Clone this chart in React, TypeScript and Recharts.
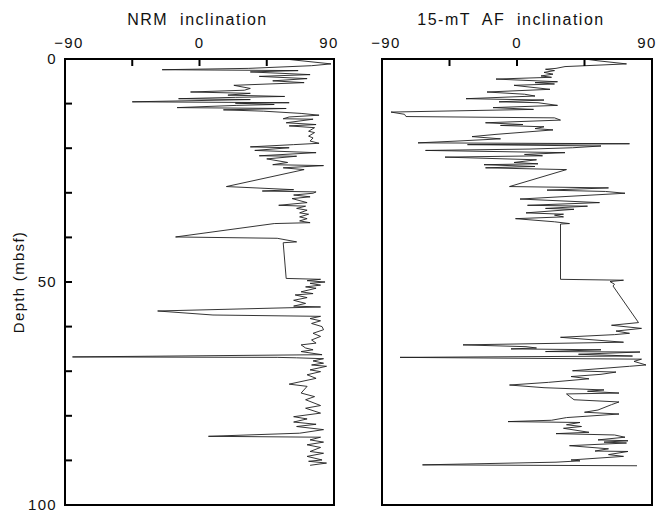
import React from "react";
import { LineChart, Line, XAxis, YAxis } from "recharts";

// NRM inclination downhole (depth in mbsf, inclination in degrees)
const NRM_DEPTH = [
  0.0, 1.1, 1.5, 2.1, 2.4, 2.6, 2.9, 3.5, 3.9, 4.4, 4.9, 5.3, 5.9, 6.6, 7.0, 7.4, 7.7, 8.1, 8.4, 8.6,
  8.9, 9.1, 9.6, 9.8, 9.9, 10.2, 10.4, 10.9, 11.1, 11.4, 11.7, 12.2, 12.6, 13.0, 13.4, 13.5, 14.3, 14.7, 15.0, 15.4,
  16.2, 16.5, 17.3, 17.7, 18.4, 18.9, 19.2, 19.7, 19.9, 20.5, 21.0, 21.7, 21.8, 22.4, 23.2, 23.7, 23.9, 24.4, 24.8, 28.6,
  29.3, 29.6, 29.8, 30.1, 30.5, 30.9, 31.3, 32.2, 32.8, 33.0, 33.5, 33.9, 34.5, 34.8, 35.4, 35.8, 36.3, 36.7, 36.9, 39.9,
  40.2, 41.0, 41.2, 49.2, 49.4, 49.7, 50.0, 50.3, 50.7, 51.1, 51.4, 52.2, 52.6, 52.9, 53.5, 54.1, 54.8, 55.4, 55.6, 56.5,
  57.4, 57.7, 58.2, 58.7, 59.3, 60.0, 60.7, 61.5, 62.2, 63.0, 63.7, 64.1, 64.8, 65.2, 65.6, 66.3, 66.8, 66.9, 67.0, 67.2,
  67.7, 68.2, 68.6, 68.9, 69.7, 70.1, 70.8, 71.6, 72.9, 73.4, 74.9, 75.7, 76.4, 77.7, 78.3, 79.4, 80.2, 80.7, 81.4, 81.9,
  82.4, 83.1, 83.9, 84.6, 84.8, 85.4, 85.9, 86.5, 87.1, 88.0, 88.4, 89.1, 89.9, 90.2, 90.6, 91.1,
];
const NRM_INC = [
  57, 88, 75, 33, -25, 66, 34, 74, 40, 72, 49, 70, 23, 34, 30, -6, 34, 19, 57, 24,
  -14, 34, -45, 60, 24, 50, 25, -15, 58, 16, 43, 68, 80, 60, 56, 76, 58, 78, 60, 77,
  73, 77, 73, 76, 74, 80, 63, 34, 60, 37, 78, 40, 65, 45, 59, 49, 83, 56, 70, 18,
  63, 42, 78, 76, 63, 74, 62, 72, 53, 71, 65, 72, 67, 73, 67, 72, 67, 74, 50, -16,
  52, 65, 56, 58, 81, 72, 84, 74, 81, 71, 78, 68, 76, 64, 72, 63, 71, 63, 81, -28,
  9, 81, 74, 81, 75, 82, 83, 76, 81, 75, 78, 68, 71, 76, 68, 82, -85, 52, 65, 83,
  76, 83, 75, 85, 74, 81, 72, 78, 60, 72, 68, 77, 71, 81, 71, 81, 63, 72, 63, 78,
  65, 83, 67, 6, 81, 74, 83, 72, 81, 74, 83, 72, 82, 73, 85, 74,
];

// 15-mT AF demagnetised inclination
const AF_DEPTH = [
  0.0, 0.4, 1.1, 1.7, 2.1, 2.3, 2.6, 3.0, 3.4, 3.8, 4.1, 4.5, 5.1, 5.3, 5.6, 5.9, 6.8, 7.4, 7.9, 8.3,
  8.9, 9.2, 9.6, 9.8, 10.4, 10.9, 11.3, 11.9, 12.4, 12.9, 13.2, 13.7, 14.3, 14.7, 14.9, 15.2, 15.6, 15.9, 16.9, 17.4,
  17.9, 18.4, 18.8, 19.0, 19.2, 19.5, 19.9, 20.2, 20.5, 21.0, 21.4, 21.7, 22.0, 22.6, 23.2, 23.5, 23.7, 24.1, 24.4, 24.8,
  28.6, 28.9, 29.4, 29.7, 30.1, 31.4, 32.2, 32.8, 33.0, 33.5, 33.7, 34.5, 34.8, 35.0, 35.4, 35.8, 36.5, 36.9, 37.0, 49.4,
  49.6, 49.9, 50.5, 50.9, 59.1, 59.7, 60.4, 61.0, 61.5, 61.8, 62.4, 63.5, 64.1, 64.5, 64.8, 65.0, 65.2, 65.6, 65.7, 66.2,
  66.6, 66.9, 67.3, 67.8, 68.6, 68.9, 69.9, 70.2, 70.7, 71.2, 71.7, 72.5, 73.1, 73.7, 74.2, 74.5, 74.9, 75.1, 76.4, 76.9,
  77.5, 78.7, 79.2, 79.6, 80.4, 81.0, 81.3, 81.5, 82.0, 82.4, 82.8, 83.7, 84.0, 84.3, 84.8, 85.4, 85.6, 85.9, 86.1, 86.7,
  87.4, 87.9, 88.0, 88.7, 89.1, 89.9, 90.1, 90.4, 91.0, 91.2,
];
const AF_INC = [
  45, 54, 73, 32, 26, 19, 25, 18, 24, 16, 23, -14, 27, 12, 25, -2, 22, -20, 5, 12,
  -34, 18, -12, 14, 27, -16, 11, -84, -75, -74, 25, 29, -21, 4, -11, 18, 12, 24, -14, -30,
  -11, -40, -66, 75, -33, 56, 37, 8, -61, 32, 5, 17, -48, 13, -2, 14, -22, 12, -21, 33,
  -5, 61, 20, 59, 72, 2, 55, 7, 47, 19, 38, 6, 31, 25, 31, -1, 25, 35, 29, 29,
  71, 62, 65, 64, 81, 63, 83, 66, 75, 65, 29, 71, -36, 6, 13, -4, 56, 19, 82, 41,
  77, -78, 83, 78, 86, 75, 37, 66, 56, 36, 48, 21, -5, 18, 58, 47, 68, 33, 38, 68,
  63, 54, 45, 68, 33, 23, -6, 42, 33, 43, 31, 48, 26, 65, 72, 54, 74, 58, 73, 35,
  61, 52, 74, 61, 71, 36, 42, 26, -63, 80,
];

const INC_TICKS = [-90, -45, 0, 45, 90];
const INC_LABELS = ["\u221290", "", "0", "", "90"];
const INC_MAJOR = [0];
const DEPTH_TICKS = [0, 10, 20, 30, 40, 50, 60, 70, 80, 90, 100];
const DEPTH_LABELS = ["0", "", "", "", "", "50", "", "", "", "", "100"];
const DEPTH_MAJOR = [50];

const FONT = "'Liberation Sans', Arial, Helvetica, sans-serif";
const INK = "#000";
const AXIS_LINE = { stroke: INK, strokeWidth: 2, strokeLinecap: "square" as const };
const TICK_LINE = { stroke: INK, strokeWidth: 2 };
// negative tick size puts the tick marks inside the frame
const TICK_IN = -7;
const MAJOR_LEN = 12;

const tickText = { fontFamily: FONT, fontSize: 15, fill: "#111", letterSpacing: 1.3 };
const titleText = { fontFamily: FONT, fontSize: 16, fill: "#111", letterSpacing: 1.5, whiteSpace: "pre" as const };

function TopTick(props: any) {
  const { x, y, payload } = props;
  const label = INC_LABELS[INC_TICKS.indexOf(payload.value)];
  if (!label) return <g />;
  // end labels are nudged inwards so they stay inside the figure
  const dx = payload.value === -90 ? 4 : payload.value === 90 ? -5 : 0;
  return (
    <text x={x + dx} y={y - 11} textAnchor="middle" style={tickText}>
      {label}
    </text>
  );
}

function LeftTick(props: any) {
  const { x, y, payload } = props;
  const label = DEPTH_LABELS[DEPTH_TICKS.indexOf(payload.value)];
  if (!label) return <g />;
  return (
    <text x={x - 8} y={y + 5} textAnchor="end" style={tickText}>
      {label}
    </text>
  );
}

function TitleLabel(props: any) {
  const { viewBox, text, shift } = props;
  const cx = viewBox.x + viewBox.width / 2 + shift;
  return (
    <text x={cx} y={25} textAnchor="middle" style={titleText}>
      {text}
    </text>
  );
}

function DepthLabel(props: any) {
  const { viewBox } = props;
  const cx = viewBox.x + 18;
  const cy = viewBox.y + viewBox.height / 2;
  return (
    <text
      x={cx}
      y={cy}
      transform={`rotate(-90 ${cx} ${cy})`}
      textAnchor="middle"
      dominantBaseline="central"
      style={tickText}
    >
      Depth (mbsf)
    </text>
  );
}

interface PanelProps {
  depth: number[];
  inc: number[];
  title: string;
  titleShift: number;
  showDepth: boolean;
  width: number;
  left: number;
  marginLeft: number;
  yAxisWidth: number;
}

function Panel({ depth, inc, title, titleShift, showDepth, width, left, marginLeft, yAxisWidth }: PanelProps) {
  const data = depth.map((d, i) => ({ depth: d, inc: inc[i] }));
  const xCommon = {
    type: "number" as const,
    dataKey: "inc",
    domain: [-90, 90],
    interval: 0 as const,
    allowDataOverflow: true,
  };
  const yCommon = {
    type: "number" as const,
    dataKey: "depth",
    domain: [0, 100],
    interval: 0 as const,
    allowDataOverflow: true,
  };
  return (
    <div style={{ position: "absolute", left, top: 0 }}>
      <LineChart
        layout="vertical"
        width={width}
        height={514}
        data={data}
        margin={{ top: 0, right: 7, bottom: 8, left: marginLeft }}
      >
        <XAxis
          {...xCommon}
          xAxisId="top"
          orientation="top"
          ticks={INC_TICKS}
          height={59}
          tickSize={TICK_IN}
          tickMargin={-TICK_IN}
          tickLine={TICK_LINE}
          axisLine={AXIS_LINE}
          tick={<TopTick />}
          label={<TitleLabel text={title} shift={titleShift} />}
        />
        <XAxis
          {...xCommon}
          xAxisId="bottom"
          orientation="bottom"
          ticks={INC_TICKS}
          height={1}
          tickSize={TICK_IN}
          tickMargin={-TICK_IN}
          tickLine={TICK_LINE}
          axisLine={AXIS_LINE}
          tick={false}
        />
        {/* longer inward tick at zero inclination, top and bottom */}
        <XAxis
          {...xCommon}
          xAxisId="topMajor"
          orientation="top"
          mirror
          ticks={INC_MAJOR}
          height={1}
          tickSize={MAJOR_LEN}
          tickLine={TICK_LINE}
          axisLine={false}
          tick={false}
        />
        <XAxis
          {...xCommon}
          xAxisId="bottomMajor"
          orientation="bottom"
          mirror
          ticks={INC_MAJOR}
          height={1}
          tickSize={MAJOR_LEN}
          tickLine={TICK_LINE}
          axisLine={false}
          tick={false}
        />
        <YAxis
          {...yCommon}
          yAxisId="left"
          orientation="left"
          ticks={DEPTH_TICKS}
          width={yAxisWidth}
          tickSize={TICK_IN}
          tickMargin={-TICK_IN}
          tickLine={TICK_LINE}
          axisLine={AXIS_LINE}
          tick={showDepth ? <LeftTick /> : false}
          label={showDepth ? <DepthLabel /> : undefined}
        />
        <YAxis
          {...yCommon}
          yAxisId="right"
          orientation="right"
          ticks={DEPTH_TICKS}
          width={1}
          tickSize={TICK_IN}
          tickMargin={-TICK_IN}
          tickLine={TICK_LINE}
          axisLine={AXIS_LINE}
          tick={false}
        />
        {/* longer inward tick at 50 mbsf, both sides */}
        <YAxis
          {...yCommon}
          yAxisId="leftMajor"
          orientation="left"
          mirror
          ticks={DEPTH_MAJOR}
          width={1}
          tickSize={MAJOR_LEN}
          tickLine={TICK_LINE}
          axisLine={false}
          tick={false}
        />
        <YAxis
          {...yCommon}
          yAxisId="rightMajor"
          orientation="right"
          mirror
          ticks={DEPTH_MAJOR}
          width={1}
          tickSize={MAJOR_LEN}
          tickLine={TICK_LINE}
          axisLine={false}
          tick={false}
        />
        <Line
          xAxisId="top"
          yAxisId="left"
          dataKey="inc"
          stroke="#1e1e1e"
          strokeWidth={0.9}
          dot={false}
          isAnimationActive={false}
        />
      </LineChart>
    </div>
  );
}

export default function App() {
  return (
    <div
      style={{
        position: "absolute",
        left: 0,
        top: 0,
        width: 660,
        height: 514,
        background: "#fff",
        overflow: "hidden",
      }}
    >
      <Panel
        depth={NRM_DEPTH}
        inc={NRM_INC}
        title={"NRM  inclination"}
        titleShift={-2}
        showDepth
        width={342}
        left={0}
        marginLeft={0}
        yAxisWidth={65}
      />
      <Panel
        depth={AF_DEPTH}
        inc={AF_INC}
        title={"15-mT  AF  inclination"}
        titleShift={-6}
        showDepth={false}
        width={318}
        left={342}
        marginLeft={39}
        yAxisWidth={1}
      />
    </div>
  );
}
